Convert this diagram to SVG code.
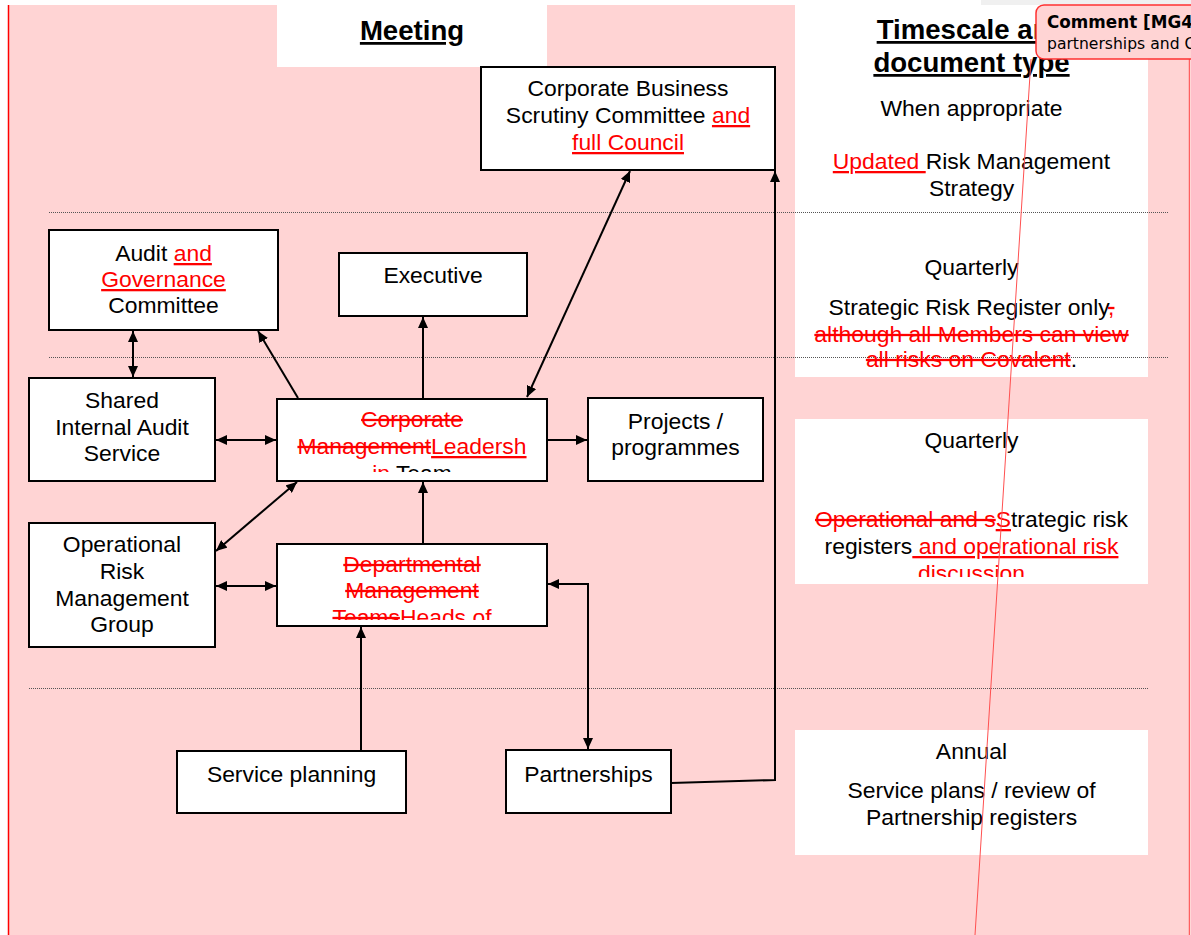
<svg xmlns="http://www.w3.org/2000/svg" width="1191" height="935" viewBox="0 0 1191 935">
<style>
.t{font-family:"Liberation Sans",Arial,sans-serif;font-size:22.9px;text-anchor:middle;fill:#000}
.h{font-family:"Liberation Sans",Arial,sans-serif;font-size:27.6px;font-weight:bold;text-anchor:middle;fill:#000;text-decoration:underline}
.del{fill:#ff0000;text-decoration:line-through}
.ins{fill:#ff0000;text-decoration:underline}
.box{fill:#fff;stroke:#000;stroke-width:2}
.ln{fill:none;stroke:#000;stroke-width:2}
.dot{stroke:#555;stroke-width:1;stroke-dasharray:1 1}
</style>
<defs>
<marker id="ah" markerUnits="userSpaceOnUse" markerWidth="11" markerHeight="10" refX="11" refY="5" orient="auto-start-reverse" viewBox="0 0 11 10">
<path d="M0,0 L11,5 L0,10 z" fill="#000"/>
</marker>
<clipPath id="cCMT"><rect x="277" y="399" width="270" height="73"/></clipPath>
<clipPath id="cDMT"><rect x="277" y="544" width="270" height="76"/></clipPath>
<clipPath id="cQ2"><rect x="795" y="419" width="353" height="158"/></clipPath>
</defs>
<rect x="0" y="0" width="1191" height="935" fill="#fff"/>
<rect x="981" y="0" width="210" height="5" fill="#f0f0f0"/>
<rect x="8" y="5" width="1181" height="930" fill="#ffd4d4"/>
<rect x="277" y="5" width="270" height="62" fill="#fff"/>
<rect x="795" y="5" width="353" height="372" fill="#fff"/>
<rect x="795" y="419" width="353" height="165" fill="#fff"/>
<rect x="795" y="730" width="353" height="125" fill="#fff"/>
<line x1="8.5" y1="5" x2="8.5" y2="935" stroke="#ff0000" stroke-width="1.5"/>
<line x1="1189.5" y1="5" x2="1189.5" y2="935" stroke="#ff6060" stroke-width="1.5"/>
<g id="dividers">
<line class="dot" x1="49" y1="212.5" x2="1168" y2="212.5"/>
<line class="dot" x1="49" y1="357.5" x2="1168" y2="357.5"/>
<line class="dot" x1="29" y1="688.5" x2="1148" y2="688.5"/>
</g>
<g id="headers">
<text class="h" x="412" y="40">Meeting</text>
<text class="h" x="971.5" y="39">Timescale and</text>
<text class="h" x="971.5" y="72">document type</text>
</g>
<g id="timescales">
<text class="t" x="971.5" y="116">When appropriate</text>
<text class="t" x="971.5" y="169"><tspan class="ins">Updated </tspan>Risk Management</text>
<text class="t" x="971.5" y="196">Strategy</text>
<text class="t" x="971.5" y="275">Quarterly</text>
<text class="t" x="971.5" y="315">Strategic Risk Register only<tspan class="del">,</tspan></text>
<text class="t" x="971.5" y="342"><tspan class="del">although all Members can view</tspan></text>
<text class="t" x="971.5" y="367"><tspan class="del">all risks on Covalent</tspan>.</text>
<text class="t" x="971.5" y="448">Quarterly</text>
<g clip-path="url(#cQ2)">
<text class="t" x="971.5" y="527"><tspan class="del">Operational and s</tspan><tspan class="ins">S</tspan>trategic risk</text>
<text class="t" x="971.5" y="554">registers<tspan class="ins"> and operational risk</tspan></text>
<text class="t" x="971.5" y="581"><tspan class="ins">discussion</tspan></text>
</g>
<text class="t" x="971.5" y="759">Annual</text>
<text class="t" x="971.5" y="798">Service plans / review of</text>
<text class="t" x="971.5" y="825">Partnership registers</text>
</g>
<g id="connectors">
<line class="ln" x1="133" y1="331" x2="133" y2="377" marker-start="url(#ah)" marker-end="url(#ah)"/>
<line class="ln" x1="216" y1="440" x2="276" y2="440" marker-start="url(#ah)" marker-end="url(#ah)"/>
<line class="ln" x1="298" y1="398" x2="258" y2="331" marker-end="url(#ah)"/>
<line class="ln" x1="423" y1="398" x2="423" y2="317" marker-end="url(#ah)"/>
<line class="ln" x1="630" y1="171" x2="527" y2="397" marker-start="url(#ah)" marker-end="url(#ah)"/>
<line class="ln" x1="547" y1="440" x2="587" y2="440" marker-end="url(#ah)"/>
<line class="ln" x1="216" y1="551" x2="297" y2="482" marker-start="url(#ah)" marker-end="url(#ah)"/>
<line class="ln" x1="216" y1="586" x2="276" y2="586" marker-start="url(#ah)" marker-end="url(#ah)"/>
<line class="ln" x1="423" y1="544" x2="423" y2="482" marker-end="url(#ah)"/>
<line class="ln" x1="361" y1="751" x2="361" y2="627" marker-end="url(#ah)"/>
<polyline class="ln" points="588,749 588,584 548,584" marker-start="url(#ah)" marker-end="url(#ah)"/>
<polyline class="ln" points="671,783 775,780 775,171" marker-end="url(#ah)"/>
</g>
<g id="cbsc">
<rect class="box" x="481" y="67" width="294" height="103"/>
<text class="t" x="628" y="96">Corporate Business</text>
<text class="t" x="628" y="123">Scrutiny Committee <tspan class="ins">and</tspan></text>
<text class="t" x="628" y="150"><tspan class="ins">full Council</tspan></text>
</g>
<g id="audit">
<rect class="box" x="49" y="230" width="229" height="100"/>
<text class="t" x="163.5" y="261">Audit <tspan class="ins">and</tspan></text>
<text class="t" x="163.5" y="287"><tspan class="ins">Governance</tspan></text>
<text class="t" x="163.5" y="313">Committee</text>
</g>
<g id="executive">
<rect class="box" x="339" y="253" width="188" height="63"/>
<text class="t" x="433" y="283">Executive</text>
</g>
<g id="shared">
<rect class="box" x="29" y="378" width="186" height="103"/>
<text class="t" x="122" y="408">Shared</text>
<text class="t" x="122" y="434.5">Internal Audit</text>
<text class="t" x="122" y="461">Service</text>
</g>
<g id="cmt">
<rect class="box" x="277" y="399" width="270" height="82"/>
<g clip-path="url(#cCMT)">
<text class="t" x="412" y="427"><tspan class="del">Corporate</tspan></text>
<text class="t" x="412" y="454"><tspan class="del">Management</tspan><tspan class="ins">Leadersh</tspan></text>
<text class="t" x="412" y="481"><tspan class="ins">ip</tspan> Team</text>
</g>
</g>
<g id="projects">
<rect class="box" x="588" y="398" width="175" height="83"/>
<text class="t" x="675.5" y="429">Projects /</text>
<text class="t" x="675.5" y="455">programmes</text>
</g>
<g id="ormg">
<rect class="box" x="29" y="523" width="186" height="124"/>
<text class="t" x="122" y="552">Operational</text>
<text class="t" x="122" y="579">Risk</text>
<text class="t" x="122" y="606">Management</text>
<text class="t" x="122" y="632">Group</text>
</g>
<g id="dmt">
<rect class="box" x="277" y="544" width="270" height="82"/>
<g clip-path="url(#cDMT)">
<text class="t" x="412" y="572"><tspan class="del">Departmental</tspan></text>
<text class="t" x="412" y="598"><tspan class="del">Management</tspan></text>
<text class="t" x="412" y="625"><tspan class="del">Teams</tspan><tspan class="ins">Heads of</tspan></text>
</g>
</g>
<g id="service">
<rect class="box" x="177" y="751" width="229" height="62"/>
<text class="t" x="291.5" y="782">Service planning</text>
</g>
<g id="partnerships">
<rect class="box" x="506" y="750" width="165" height="63"/>
<text class="t" x="588.5" y="782">Partnerships</text>
</g>
<g id="comment">
<line x1="1031" y1="59" x2="975" y2="935" stroke="#ff5050" stroke-width="1"/>
<rect x="1036" y="5" width="170" height="54" rx="8" fill="#ffd4d4" stroke="#ff3030" stroke-width="1.5"/>
<text x="1047" y="28" font-family="DejaVu Sans,sans-serif" font-size="16.8" font-weight="bold" fill="#000">Comment [MG4]</text>
<text x="1047" y="49" font-family="DejaVu Sans,sans-serif" font-size="15.6" fill="#000">partnerships and Covalent</text>
</g>
</svg>
